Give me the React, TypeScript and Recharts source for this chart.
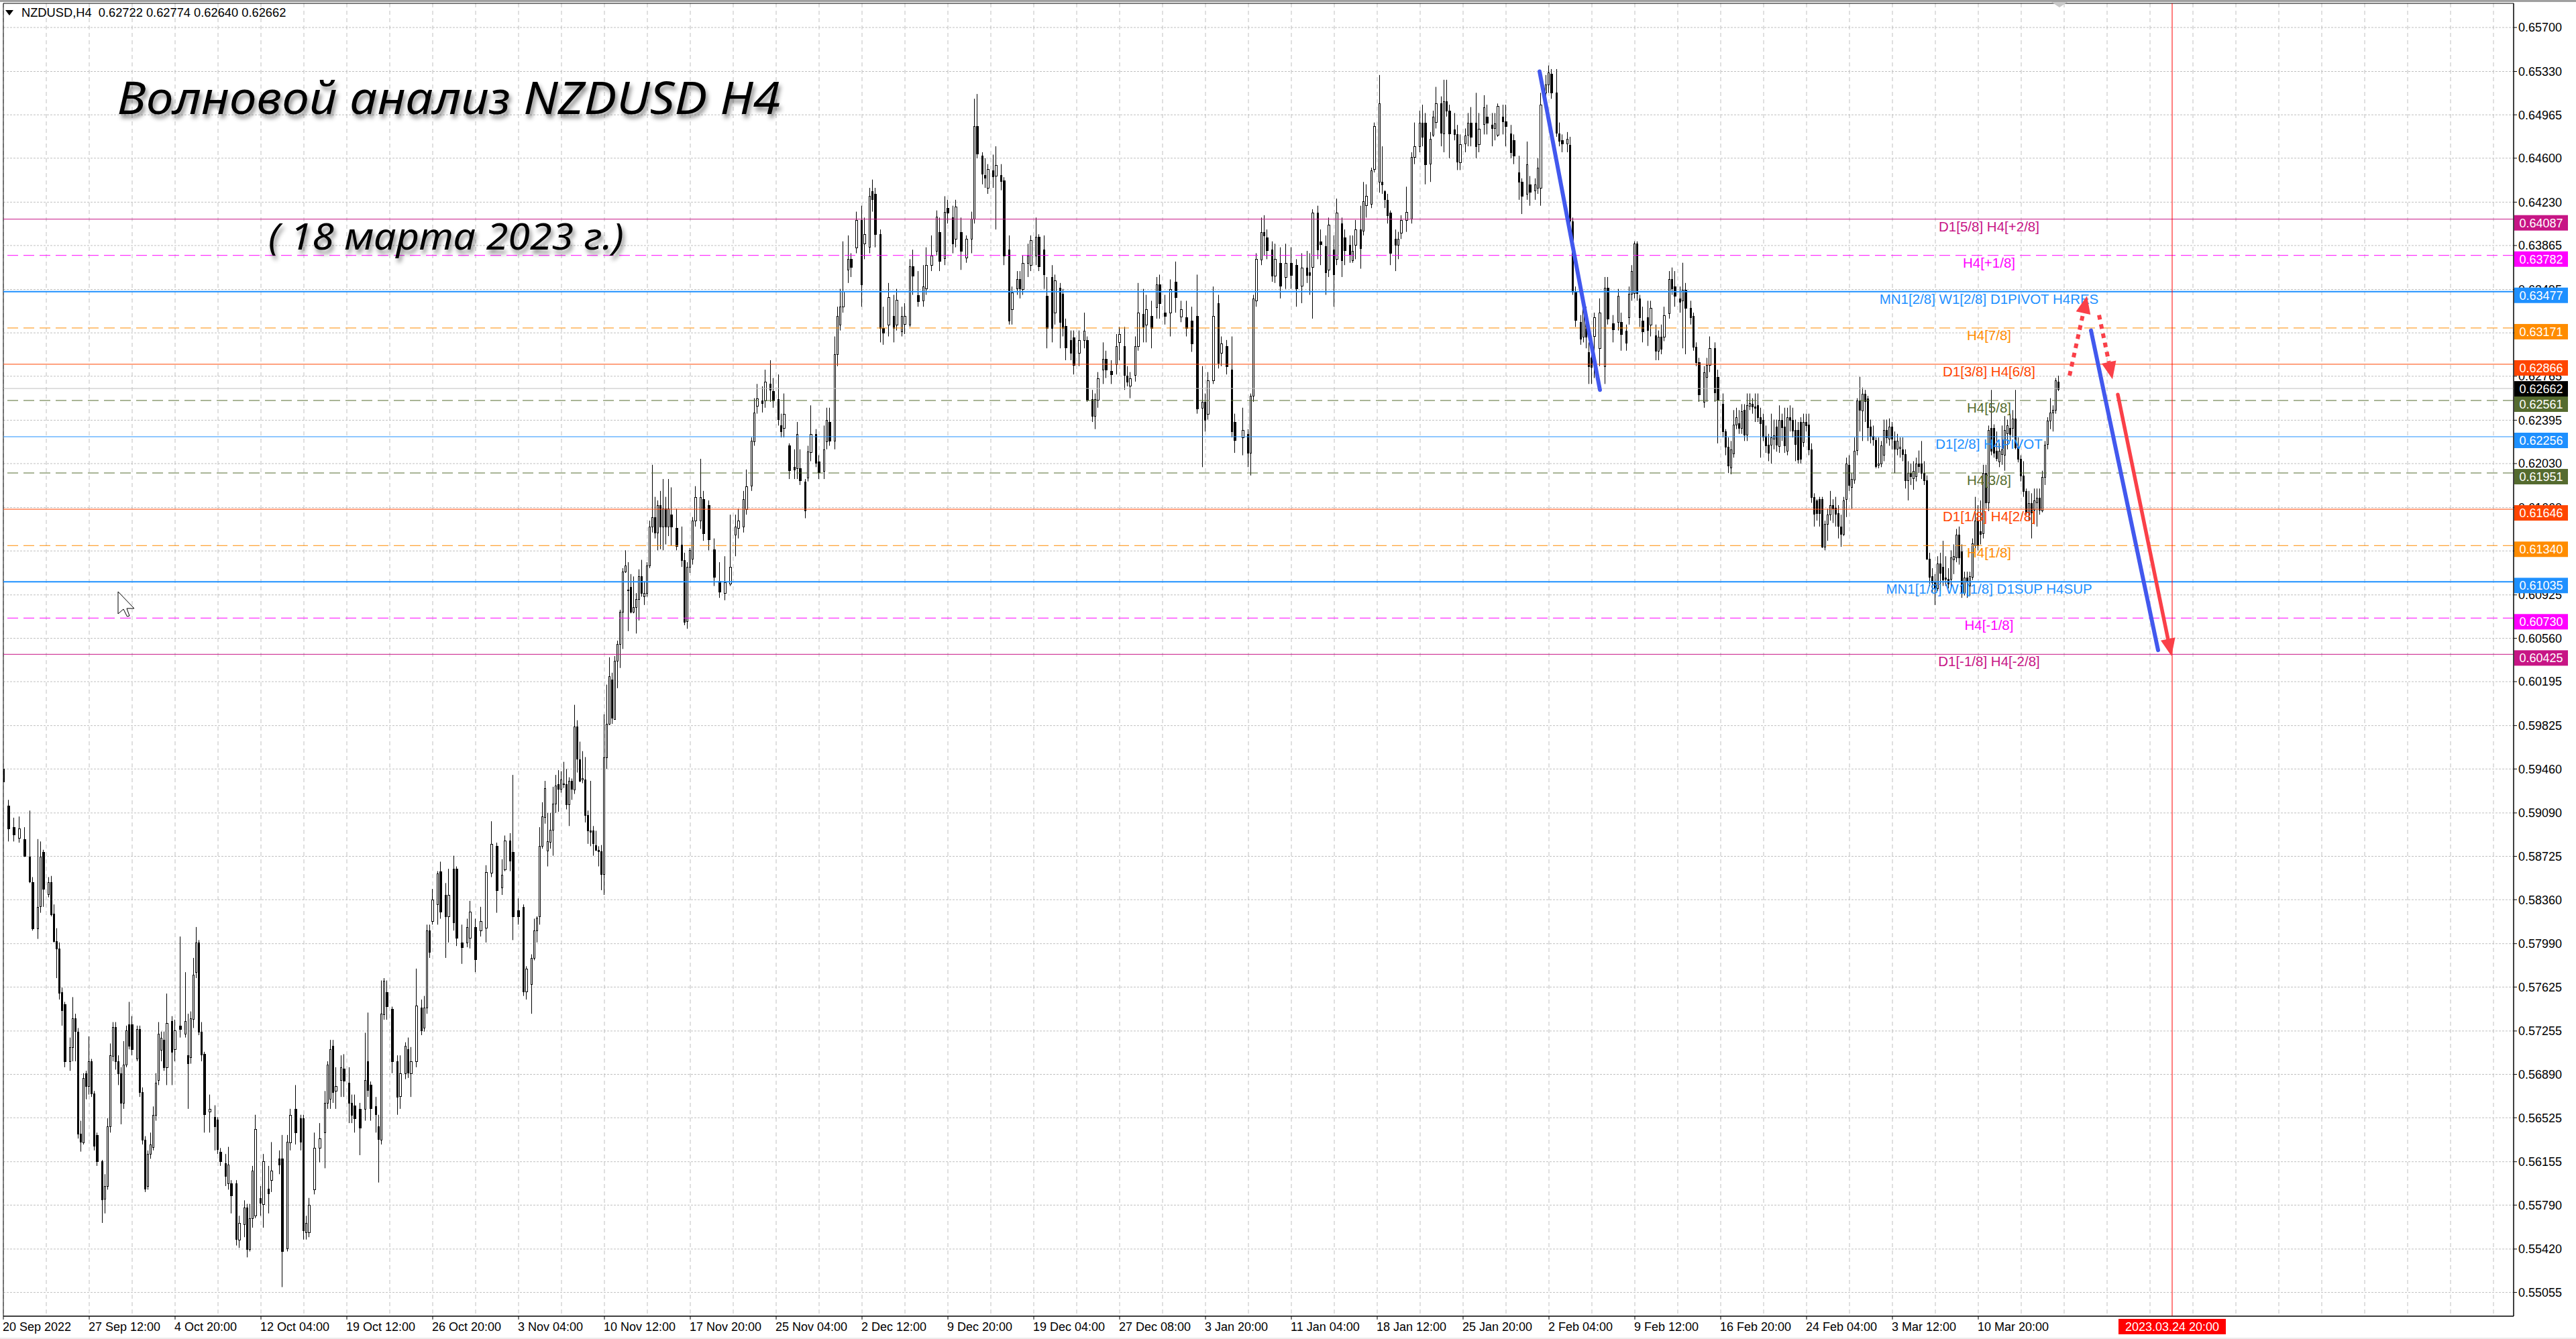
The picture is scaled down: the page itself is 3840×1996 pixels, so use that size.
import {
  Bar,
  CartesianGrid,
  ComposedChart,
  ReferenceArea,
  ReferenceLine,
  XAxis,
  YAxis,
} from "recharts";

// candles, price in pips (0.6266 -> 6266)
// every run is flat: bar number, open, high, low, close
const septBars = [
  0,5946,5954,5932,5935, 2,5915,5920,5885,5896, 4,5897,5905,5885,5891, 6,5888,5906,5884,5896, 8,5887,5897,5872,5873,
  10,5872,5911,5850,5851, 11,5851,5855,5810,5812, 13,5812,5887,5803,5830, 14,5830,5885,5825,5872, 15,5876,5878,5830,5845,
  17,5841,5855,5838,5851, 18,5851,5856,5822,5824, 19,5824,5832,5800,5801, 20,5801,5812,5770,5795, 21,5795,5800,5752,5758,
  22,5758,5762,5730,5743, 23,5748,5750,5695,5700, 25,5700,5720,5692,5712, 26,5712,5754,5700,5736, 27,5736,5740,5700,5725,
  28,5725,5728,5635,5639, 29,5639,5650,5624,5632, 30,5632,5690,5630,5686, 31,5690,5692,5668,5679, 32,5679,5721,5672,5700,
  33,5700,5702,5670,5673, 34,5673,5675,5625,5629, 35,5638,5640,5612,5616, 37,5616,5617,5564,5584, 38,5584,5605,5572,5595,
  39,5595,5652,5592,5645, 40,5645,5715,5640,5705, 41,5705,5733,5700,5729, 42,5729,5733,5693,5700, 43,5700,5705,5680,5690,
  44,5690,5695,5647,5665, 45,5665,5717,5660,5697, 46,5697,5730,5695,5726, 47,5731,5750,5710,5713, 48,5731,5738,5705,5710,
  50,5702,5730,5700,5727, 51,5727,5730,5670,5674, 52,5674,5678,5630,5634, 53,5634,5637,5590,5593, 54,5595,5625,5592,5622,
  55,5622,5640,5618,5630, 56,5628,5662,5625,5655, 57,5655,5690,5650,5682, 58,5684,5733,5680,5723, 59,5710,5725,5700,5720,
  60,5718,5725,5692,5695, 61,5695,5757,5680,5732, 63,5734,5738,5680,5708, 64,5710,5735,5700,5726, 66,5730,5805,5720,5727,
  68,5723,5775,5720,5734, 69,5705,5740,5660,5698, 70,5703,5742,5698,5736, 71,5736,5787,5728,5773, 72,5775,5813,5770,5800,
  73,5800,5802,5722,5725, 74,5725,5733,5700,5706, 75,5706,5708,5640,5655, 77,5658,5672,5640,5660, 79,5653,5663,5625,5645,
];
const octBars = [
  80,5651,5653,5622,5626, 81,5624,5627,5612,5616, 83,5614,5622,5595,5603, 84,5597,5628,5592,5613, 85,5597,5600,5572,5587,
  87,5597,5600,5545,5550, 88,5550,5570,5543,5564, 90,5563,5583,5552,5577, 91,5577,5580,5535,5542, 92,5542,5580,5540,5568,
  93,5568,5612,5560,5608, 94,5570,5655,5568,5643, 96,5585,5595,5570,5581, 97,5580,5622,5560,5616, 99,5593,5612,5572,5589,
  100,5600,5632,5590,5608, 103,5618,5625,5605,5613, 104,5618,5638,5510,5540, 106,5542,5638,5540,5632, 107,5632,5660,5625,5655,
  109,5660,5680,5630,5640, 111,5652,5655,5625,5632, 112,5652,5655,5550,5558, 113,5556,5570,5550,5564, 114,5556,5585,5552,5579,
  116,5592,5640,5588,5627, 118,5627,5648,5615,5635, 120,5640,5675,5610,5665, 121,5665,5700,5660,5697, 122,5668,5718,5660,5710,
  123,5713,5718,5665,5674, 124,5675,5695,5660,5679, 126,5684,5705,5670,5695, 127,5694,5706,5670,5684, 129,5682,5695,5648,5665,
  130,5665,5672,5648,5655, 131,5663,5672,5640,5652, 133,5660,5665,5621,5644, 135,5660,5724,5650,5684, 136,5700,5741,5670,5676,
  137,5680,5683,5650,5660, 139,5662,5670,5640,5655, 140,5645,5655,5598,5634, 141,5634,5768,5630,5740, 142,5740,5770,5735,5768,
  143,5758,5768,5735,5746, 145,5744,5746,5690,5700, 147,5700,5705,5655,5670, 148,5671,5705,5660,5690, 150,5690,5716,5685,5713,
  151,5710,5720,5686,5690, 152,5690,5712,5670,5700, 154,5700,5778,5695,5747, 156,5745,5752,5722,5726, 157,5728,5755,5725,5745,
  158,5745,5815,5740,5810, 159,5810,5815,5787,5792, 160,5818,5845,5815,5836, 162,5832,5860,5815,5858, 163,5860,5868,5820,5826,
  165,5840,5850,5787,5822, 166,5822,5862,5800,5840, 168,5862,5873,5810,5817, 169,5862,5864,5797,5804, 171,5800,5815,5782,5796,
  173,5800,5820,5796,5813, 174,5804,5835,5795,5826, 176,5813,5820,5775,5786, 178,5810,5830,5805,5818, 180,5812,5865,5800,5859,
  182,5859,5902,5855,5883, 184,5881,5884,5825,5844, 186,5846,5870,5840,5857, 187,5862,5890,5860,5886, 189,5886,5892,5860,5869,
  190,5876,5941,5802,5822, 192,5827,5837,5815,5822, 194,5830,5832,5755,5759, 195,5759,5780,5752,5778, 197,5765,5790,5740,5787,
  198,5787,5820,5785,5810,
];
const novBars = [
  199,5810,5822,5800,5821, 200,5822,5897,5815,5881, 201,5881,5918,5879,5906, 202,5906,5936,5900,5930, 203,5877,5909,5864,5885,
  204,5885,5909,5879,5895, 205,5895,5931,5873,5917, 206,5917,5941,5909,5932, 207,5933,5945,5910,5929, 208,5929,5944,5926,5937,
  209,5934,5952,5930,5934, 210,5933,5946,5912,5916, 211,5916,5939,5898,5936, 212,5936,5938,5920,5929, 213,5929,6000,5925,5982,
  214,5982,5987,5943,5955, 215,5954,5969,5935,5936, 216,5937,5961,5934,5938, 217,5937,5956,5901,5907, 218,5907,5911,5883,5894,
  219,5894,5936,5881,5893, 220,5894,5898,5873,5883, 221,5882,5894,5877,5878, 222,5878,5881,5864,5877, 223,5877,5882,5844,5858,
  224,5858,5992,5840,5956, 225,5956,6017,5946,5984, 226,5984,6040,5983,6024, 227,6021,6027,5984,5989, 228,5988,6041,5988,6037,
  229,6037,6054,6014,6051, 230,6051,6080,6031,6078, 231,6078,6115,6047,6112, 232,6112,6130,6111,6117, 233,6097,6120,6062,6097,
  234,6099,6110,6077,6078, 235,6078,6108,6077,6082, 236,6082,6094,6060,6089, 237,6089,6114,6071,6108, 238,6108,6122,6091,6094,
  239,6091,6104,6084,6094, 240,6094,6120,6091,6117, 241,6117,6155,6115,6150, 242,6150,6202,6145,6158, 243,6158,6175,6140,6145,
  244,6145,6172,6130,6168, 245,6168,6180,6131,6150, 246,6150,6190,6130,6165, 247,6165,6175,6135,6150, 248,6150,6190,6142,6165,
  249,6160,6183,6134,6150, 251,6149,6165,6130,6134, 253,6135,6150,6116,6122, 254,6122,6128,6067,6070, 255,6070,6120,6064,6116,
  256,6116,6132,6111,6130, 257,6123,6158,6118,6155, 258,6155,6184,6150,6175, 260,6155,6207,6148,6175, 261,6173,6180,6138,6144,
  263,6168,6172,6130,6139, 265,6131,6140,6100,6108, 267,6104,6120,6090,6095, 269,6094,6125,6088,6103, 271,6102,6160,6100,6116,
  273,6143,6160,6125,6150, 274,6149,6165,6140,6155, 276,6150,6180,6145,6173, 277,6165,6198,6160,6184, 279,6184,6225,6180,6222,
  280,6222,6258,6218,6246, 281,6252,6270,6245,6258, 283,6256,6268,6246,6254, 284,6256,6282,6250,6272, 286,6270,6290,6255,6265,
  287,6264,6275,6250,6256, 289,6257,6278,6235,6240, 290,6235,6245,6225,6230, 291,6233,6262,6225,6245, 293,6218,6220,6190,6197,
  295,6200,6215,6190,6198, 296,6199,6238,6190,6228, 297,6199,6215,6185,6189, 299,6188,6190,6157,6164, 300,6191,6218,6188,6213,
  301,6213,6252,6205,6228, 303,6228,6232,6200,6204, 304,6205,6210,6190,6196, 306,6197,6235,6190,6215, 307,6222,6250,6215,6240,
  308,6238,6250,6218,6222,
];
const decBars = [
  310,6222,6310,6215,6295, 311,6295,6335,6285,6327, 312,6320,6350,6315,6335, 313,6335,6390,6330,6348, 315,6366,6395,6355,6375,
  316,6375,6380,6360,6368, 318,6385,6415,6380,6408, 320,6408,6420,6335,6354, 321,6388,6410,6375,6396, 323,6385,6435,6380,6428,
  324,6432,6442,6415,6425, 325,6430,6435,6385,6396, 327,6396,6400,6305,6317, 328,6317,6335,6303,6313, 330,6320,6355,6310,6343,
  332,6327,6345,6305,6317, 333,6320,6350,6315,6341, 335,6314,6335,6310,6327, 336,6320,6338,6312,6327, 338,6320,6375,6318,6369,
  339,6369,6383,6345,6361, 341,6345,6365,6335,6340, 343,6340,6370,6335,6352, 344,6350,6385,6345,6370, 346,6370,6395,6365,6378,
  348,6382,6416,6378,6411, 349,6398,6410,6365,6374, 351,6376,6428,6370,6415, 352,6418,6425,6405,6414, 354,6410,6420,6380,6388,
  355,6392,6425,6385,6419, 357,6398,6410,6366,6382, 359,6376,6395,6372,6392, 361,6392,6415,6380,6409, 362,6409,6510,6405,6487,
  363,6487,6514,6460,6464, 365,6462,6465,6438,6447, 366,6446,6460,6435,6444, 367,6435,6455,6430,6451, 369,6450,6463,6435,6445,
  370,6445,6470,6400,6454, 372,6446,6455,6433,6441, 373,6441,6444,6370,6378, 375,6383,6395,6320,6323, 376,6333,6352,6320,6347,
  378,6350,6365,6345,6358, 379,6358,6365,6342,6350, 380,6350,6378,6345,6372, 382,6372,6388,6360,6378, 383,6370,6395,6365,6391,
  385,6378,6410,6370,6394, 386,6394,6396,6365,6369, 388,6383,6395,6350,6362, 389,6344,6360,6300,6317, 391,6360,6370,6305,6317,
  392,6330,6362,6320,6357, 394,6351,6355,6300,6322, 395,6346,6350,6310,6317, 396,6319,6325,6290,6301, 398,6307,6315,6290,6296,
  399,6309,6315,6278,6286, 401,6296,6315,6285,6307, 403,6307,6330,6300,6315, 404,6307,6310,6255,6257, 406,6257,6265,6238,6243,
  407,6243,6262,6232,6257, 408,6257,6280,6250,6275, 410,6282,6305,6270,6291, 411,6291,6298,6275,6282, 413,6281,6290,6270,6278,
  415,6287,6312,6278,6302, 416,6305,6318,6290,6312, 418,6302,6318,6265,6278, 419,6277,6285,6268,6272, 420,6269,6280,6258,6275,
  422,6278,6310,6272,6302, 423,6302,6355,6298,6330, 425,6329,6350,6305,6318, 426,6320,6345,6305,6333, 428,6327,6340,6300,6317,
  430,6335,6360,6325,6354, 431,6354,6362,6325,6338, 433,6330,6345,6320,6327, 435,6330,6358,6310,6350, 437,6356,6373,6330,6343,
  439,6327,6340,6322,6333, 441,6326,6340,6310,6317, 443,6323,6335,6297,6304,
];
const janBars = [
  445,6327,6362,6245,6249, 447,6250,6285,6200,6255, 448,6255,6262,6230,6240, 449,6245,6280,6240,6273, 451,6273,6352,6270,6327,
  453,6338,6345,6283,6288, 454,6296,6310,6285,6304, 456,6302,6307,6278,6285, 458,6282,6310,6225,6230, 459,6238,6245,6212,6223,
  462,6225,6250,6210,6231, 464,6228,6232,6200,6212, 465,6212,6262,6193,6260, 466,6260,6345,6255,6342, 467,6340,6380,6335,6375,
  469,6375,6410,6370,6398, 470,6398,6412,6378,6395, 471,6393,6400,6375,6382, 473,6383,6390,6356,6361, 474,6361,6388,6355,6375,
  476,6372,6385,6342,6353, 478,6360,6388,6350,6372, 480,6372,6385,6350,6362, 482,6370,6375,6335,6350, 484,6353,6380,6338,6368,
  486,6368,6382,6355,6362, 487,6364,6380,6345,6362, 488,6368,6417,6325,6414, 490,6414,6420,6375,6383, 491,6390,6400,6370,6388,
  493,6386,6395,6345,6364, 494,6366,6410,6360,6404, 496,6383,6395,6335,6362, 497,6375,6426,6370,6414, 499,6405,6410,6360,6374,
  500,6393,6400,6370,6382, 502,6387,6395,6372,6379, 503,6374,6395,6372,6382, 504,6387,6408,6375,6400, 506,6400,6420,6367,6384,
  507,6399,6440,6395,6424, 508,6420,6438,6410,6428, 510,6422,6452,6418,6450, 511,6451,6490,6448,6487, 513,6440,6530,6431,6506,
  514,6440,6470,6430,6438, 515,6432,6433,6418,6425, 516,6425,6430,6405,6412, 517,6414,6416,6370,6380, 519,6392,6400,6365,6387,
  520,6387,6398,6375,6392, 521,6397,6412,6392,6408, 523,6408,6436,6398,6415, 525,6409,6465,6405,6461, 526,6461,6490,6455,6470,
  528,6470,6500,6465,6490, 529,6490,6505,6470,6478, 530,6490,6498,6438,6455, 532,6455,6482,6440,6476, 533,6480,6500,6478,6495,
  534,6490,6520,6485,6506, 536,6506,6512,6470,6481, 537,6481,6526,6465,6508, 538,6508,6526,6495,6500, 539,6500,6505,6460,6481,
  541,6484,6498,6475,6480, 542,6480,6488,6450,6457, 543,6457,6480,6450,6472, 545,6472,6485,6465,6479, 546,6480,6498,6470,6490,
  547,6490,6503,6470,6478, 549,6490,6515,6460,6470, 550,6472,6498,6465,6485, 552,6489,6513,6480,6503, 553,6495,6505,6480,6490,
  555,6488,6498,6470,6485, 556,6485,6498,6475,6489, 557,6480,6506,6478,6504, 559,6495,6505,6480,6491, 560,6491,6505,6470,6487,
  562,6481,6488,6460,6465, 563,6475,6480,6455,6462, 565,6448,6462,6425,6440, 566,6440,6443,6413,6428, 568,6430,6474,6425,6455,
  569,6438,6445,6420,6432, 571,6433,6443,6425,6438, 572,6435,6460,6430,6452,
];
const febBars = [
  573,6435,6515,6420,6505, 575,6515,6530,6505,6522, 576,6522,6538,6515,6532, 577,6531,6535,6510,6515, 579,6515,6535,6478,6481,
  580,6481,6490,6470,6475, 581,6475,6480,6465,6472, 583,6472,6482,6465,6476, 584,6471,6478,6405,6407, 585,6407,6410,6345,6348,
  586,6348,6352,6318,6324, 588,6322,6328,6303,6308, 589,6310,6338,6305,6334, 590,6328,6335,6300,6310, 591,6297,6305,6270,6285,
  592,6292,6300,6270,6284, 593,6310,6330,6275,6326, 595,6300,6342,6285,6330, 597,6285,6360,6270,6351, 598,6351,6360,6320,6325,
  600,6321,6328,6305,6316, 602,6322,6350,6315,6344, 603,6322,6330,6298,6312, 605,6315,6320,6298,6305, 606,6326,6352,6320,6346,
  607,6346,6370,6340,6365, 608,6346,6390,6342,6388, 609,6388,6390,6340,6346, 610,6342,6345,6318,6326, 611,6323,6335,6305,6314,
  613,6326,6340,6302,6315, 614,6320,6340,6310,6334, 616,6311,6320,6290,6298, 617,6298,6315,6290,6310, 618,6310,6320,6295,6300,
  619,6310,6335,6306,6328, 621,6329,6365,6325,6358, 622,6358,6368,6345,6350, 623,6352,6365,6335,6344, 625,6342,6352,6330,6339,
  626,6340,6372,6300,6349, 627,6349,6355,6295,6334, 629,6334,6340,6320,6326, 630,6327,6330,6298,6301, 631,6301,6305,6285,6288,
  632,6288,6292,6255,6261, 634,6255,6285,6250,6280, 635,6276,6292,6255,6286, 636,6286,6310,6280,6300, 638,6300,6305,6255,6263,
  639,6276,6282,6220,6257, 641,6253,6262,6225,6230, 642,6230,6232,6210,6217, 643,6217,6225,6195,6201, 644,6200,6222,6194,6215,
  645,6212,6248,6208,6236, 646,6236,6250,6232,6242, 647,6237,6248,6228,6233, 648,6233,6253,6228,6247, 649,6248,6253,6222,6227,
  650,6227,6262,6222,6252, 651,6252,6262,6248,6254, 652,6253,6258,6245,6251, 653,6251,6262,6238,6250, 654,6252,6262,6238,6242,
  655,6242,6250,6208,6237, 656,6240,6245,6222,6226, 657,6226,6235,6212,6218, 658,6219,6228,6205,6212, 659,6219,6245,6203,6225,
  660,6224,6240,6215,6227, 661,6234,6240,6213,6219, 662,6218,6252,6212,6240, 663,6240,6245,6222,6234, 664,6234,6250,6212,6218,
  665,6214,6250,6210,6242, 666,6242,6252,6230,6240, 667,6240,6250,6225,6231, 668,6231,6240,6205,6219, 669,6231,6238,6203,6206,
  670,6238,6242,6203,6207, 671,6221,6245,6217,6238, 672,6238,6245,6230,6235, 673,6236,6245,6210,6215, 674,6215,6220,6170,6175,
  675,6175,6178,6150,6161, 676,6172,6173,6155,6161, 677,6173,6175,6150,6161, 678,6173,6175,6132,6133, 679,6133,6155,6130,6152,
  680,6152,6165,6138,6160, 681,6160,6180,6155,6168, 682,6168,6173,6153,6165, 683,6166,6175,6150,6161, 684,6161,6168,6140,6150,
  685,6150,6160,6133,6144, 686,6144,6175,6142,6172, 687,6173,6208,6158,6203, 688,6202,6210,6180,6185, 689,6183,6195,6165,6190,
  690,6190,6225,6186,6214, 691,6214,6258,6210,6256, 692,6256,6276,6230,6248, 693,6248,6267,6222,6262, 694,6262,6265,6238,6256,
  695,6258,6260,6222,6234, 696,6234,6240,6220,6226, 697,6226,6235,6218,6223, 698,6223,6225,6199,6201, 699,6202,6225,6199,6203,
  700,6203,6222,6200,6218, 701,6210,6240,6205,6231, 702,6231,6240,6220,6225, 703,6224,6241,6218,6234, 704,6234,6238,6215,6224,
];
const marBars = [
  705,6222,6230,6195,6215, 706,6215,6228,6210,6222, 707,6216,6225,6208,6217, 708,6215,6225,6205,6211, 709,6211,6215,6182,6189,
  710,6189,6205,6172,6195, 711,6195,6203,6185,6192, 712,6191,6205,6181,6197, 713,6192,6208,6188,6203, 714,6203,6214,6195,6201,
  715,6203,6222,6190,6195, 716,6195,6205,6185,6189, 717,6189,6193,6122,6123, 718,6123,6128,6100,6108, 719,6108,6115,6095,6103,
  720,6103,6110,6084,6098, 721,6098,6125,6096,6119, 722,6119,6128,6096,6111, 723,6116,6138,6100,6105, 724,6107,6125,6100,6106,
  725,6106,6115,6098,6102, 726,6106,6130,6098,6124, 727,6122,6135,6110,6125, 728,6124,6148,6120,6143, 729,6143,6150,6118,6124,
  730,6129,6135,6090,6094, 731,6094,6112,6092,6107, 732,6107,6112,6090,6104, 733,6100,6112,6092,6108, 734,6108,6140,6105,6136,
  735,6134,6175,6130,6155, 736,6155,6168,6130,6134, 737,6146,6172,6135,6144, 738,6144,6202,6140,6195, 739,6195,6202,6165,6170,
  740,6170,6235,6163,6231, 741,6233,6265,6210,6214, 742,6233,6236,6208,6212, 743,6214,6230,6205,6208, 744,6205,6220,6200,6214,
  745,6211,6235,6202,6215, 746,6210,6243,6197,6231, 747,6228,6240,6215,6235, 748,6233,6245,6222,6228, 749,6233,6248,6225,6241,
  750,6241,6265,6215,6217, 751,6217,6225,6204,6207, 752,6207,6210,6188,6193, 753,6193,6205,6175,6180, 754,6180,6182,6160,6162,
  755,6162,6180,6155,6170, 756,6170,6178,6140,6162, 757,6164,6182,6152,6172, 758,6170,6182,6150,6174, 759,6174,6182,6160,6164,
  760,6164,6197,6162,6192, 761,6192,6222,6185,6219, 762,6219,6242,6215,6239, 763,6239,6258,6232,6246, 764,6246,6252,6230,6248,
  765,6248,6275,6245,6273, 766,6272,6277,6264,6266,
];

const yTicks = [
  0.657, 0.6533, 0.64965, 0.646, 0.6423, 0.63865, 0.63495, 0.6313, 0.62765, 0.62395, 0.6203, 0.6166, 0.61295, 0.60925,
  0.6056, 0.60195, 0.59825, 0.5946, 0.5909, 0.58725, 0.5836, 0.5799, 0.57625, 0.57255, 0.5689, 0.56525, 0.56155, 0.5579,
  0.5542, 0.55055,
];
const dateLabels = [
  "20 Sep 2022", "27 Sep 12:00", "4 Oct 20:00", "12 Oct 04:00", "19 Oct 12:00", "26 Oct 20:00", "3 Nov 04:00", "10 Nov 12:00",
  "17 Nov 20:00", "25 Nov 04:00", "2 Dec 12:00", "9 Dec 20:00", "19 Dec 04:00", "27 Dec 08:00", "3 Jan 20:00", "11 Jan 04:00",
  "18 Jan 12:00", "25 Jan 20:00", "2 Feb 04:00", "9 Feb 12:00", "16 Feb 20:00", "24 Feb 04:00", "3 Mar 12:00", "10 Mar 20:00",
];

const levelPrices = [0.64087, 0.63782, 0.63477, 0.63171, 0.62866, 0.62561, 0.62256, 0.61951, 0.61646, 0.6134, 0.61035, 0.6073, 0.60425];
const levelNames = [
  "D1[5/8] H4[+2/8]", "H4[+1/8]", "MN1[2/8] W1[2/8] D1PIVOT H4RES", "H4[7/8]", "D1[3/8] H4[6/8]", "H4[5/8]", "D1[2/8] H4PIVOT",
  "H4[3/8]", "D1[1/8] H4[2/8]", "H4[1/8]", "MN1[1/8] W1[1/8] D1SUP H4SUP", "H4[-1/8]", "D1[-1/8] H4[-2/8]",
];
const levelColors = ["#C71585", "#FF00FF", "#1E90FF", "#FF8C00", "#FF4500", "#556B2F", "#1E90FF", "#556B2F", "#FF4500", "#FF8C00", "#1E90FF", "#FF00FF", "#C71585"];
const levelDashed = [false, true, false, true, false, true, false, true, false, true, false, true, false];
const levelThick = [false, false, true, false, false, false, false, false, false, false, true, false, false];

const lastPrice = 0.62662;
const targetBar = 808.25;
const targetLabel = "2023.03.24 20:00";

// drawn wave lines: bar and pip pairs for start and end
const waveBlue = [[572.5, 6533, 595, 6265], [778, 6315, 803, 6046]];
const waveRedSolid = [788, 6261, 808, 6041];
const waveRedDotted = [[770, 6277, 776.5, 6344], [781, 6328, 786, 6274]];

const FONT = '"Liberation Sans", Arial, sans-serif';
const RED = "#FA4048";
const BLUE = "#4258EE";
const PRICE_DOMAIN = [0.54855, 0.65903];

const allRuns = [septBars, octBars, novBars, decBars, janBars, febBars, marBars];
const candles: any[] = [];
allRuns.forEach((run) => {
  for (let i = 0; i + 4 < run.length; i += 5) {
    candles.push({
      bar: run[i],
      open: run[i + 1] / 1e4,
      high: run[i + 2] / 1e4,
      low: run[i + 3] / 1e4,
      close: run[i + 4] / 1e4,
      range: [run[i + 3] / 1e4, run[i + 2] / 1e4],
    });
  }
});
candles.forEach((c, i) => {
  const next = candles[i + 1];
  c.wide = next ? next.bar - c.bar > 1 : false;
});

const xTicks = dateLabels.map((_, i) => i * 32);
const gridBars: number[] = [];
for (let b = 0; b <= 935; b += 16) gridBars.push(b);
const tagPrices = [...levelPrices, lastPrice];

function Candle(props: any) {
  const { x, y, width, height, payload } = props;
  const cx = Math.floor(x + width / 2) + 0.5;
  const top = Math.min(y, y + height);
  const h = Math.abs(height);
  const k = h / (payload.high - payload.low || 1);
  const yOf = (p: number) => top + (payload.high - p) * k;
  const up = payload.close >= payload.open;
  const bodyTop = Math.round(yOf(Math.max(payload.open, payload.close))) + 0.5;
  const bodyH = Math.max(Math.round(Math.abs(payload.open - payload.close) * k), 1);
  const w = payload.wide ? 3 : 2;
  return (
    <g>
      <line x1={cx} x2={cx} y1={top} y2={top + h} stroke="#000" strokeWidth={1} />
      <rect x={cx - 1} y={bodyTop} width={w} height={bodyH} fill={up ? "#fff" : "#000"} stroke="#000" strokeWidth={1} />
    </g>
  );
}

// coloured price boxes, drawn as the ticks of a second axis so they sit over the first one
function PriceTag({ y, payload }: any) {
  const price = payload.value;
  const i = levelPrices.indexOf(price);
  // the black last-price box is centred on its line, the level boxes hang below theirs
  const top = i < 0 ? y - 11 : y - 6;
  return (
    <g>
      <rect x={3748} y={top} width={80} height={23} fill={i < 0 ? "#000" : levelColors[i]} />
      <text x={3788} y={top + 18} fill="#fff" fontSize={18} fontFamily={FONT} textAnchor="middle">
        {price.toFixed(5)}
      </text>
    </g>
  );
}

function LevelName({ viewBox, text, color }: any) {
  return (
    <text x={2965} y={viewBox.y + 18} fill={color} fontSize={20.5} fontFamily={FONT} textAnchor="middle">
      {text}
    </text>
  );
}

function TargetTag({ viewBox }: any) {
  return (
    <g>
      <rect x={viewBox.x - 80} y={1966} width={160} height={23} fill="#FF0000" />
      <text x={viewBox.x} y={1984} fill="#fff" fontSize={18} fontFamily={FONT} textAnchor="middle">
        {targetLabel}
      </text>
    </g>
  );
}

function DateTick({ x, y, payload, index }: any) {
  return (
    <text x={x - 1} y={y + 15} fill="#000" fontSize={18} fontFamily={FONT}>
      {dateLabels[index ?? payload.index]}
    </text>
  );
}

function ArrowLine({ x1, y1, x2, y2, color, width, dash, head }: any) {
  const a = Math.atan2(y2 - y1, x2 - x1);
  const bx = x2 - Math.cos(a) * 26;
  const by = y2 - Math.sin(a) * 26;
  const nx = -Math.sin(a) * 11;
  const ny = Math.cos(a) * 11;
  return (
    <g>
      <line
        x1={x1}
        y1={y1}
        x2={head ? bx : x2}
        y2={head ? by : y2}
        stroke={color}
        strokeWidth={width}
        strokeDasharray={dash}
        strokeLinecap={dash ? "butt" : "round"}
      />
      {head && <polygon points={`${x2},${y2} ${bx + nx},${by + ny} ${bx - nx},${by - ny}`} fill={color} />}
    </g>
  );
}

function waveSegment(w: number[]) {
  return [
    { x: w[0], y: w[1] / 1e4 },
    { x: w[2], y: w[3] / 1e4 },
  ] as any;
}

export default function App() {
  return (
    <div style={{ position: "fixed", left: 0, top: 0, width: 3840, height: 1996, background: "#fff", overflow: "hidden" }}>
      <ComposedChart width={3840} height={1996} data={candles} margin={{ top: 5, right: 0, bottom: 0, left: 5 }}>
        <CartesianGrid vertical={false} stroke="#c0c0c0" strokeDasharray="3 2" horizontalValues={yTicks} />
        <CartesianGrid horizontal={false} stroke="#c0c0c0" strokeDasharray="6 5" verticalValues={gridBars} />
        <XAxis
          type="number"
          dataKey="bar"
          domain={[0, 935.5]}
          ticks={xTicks}
          interval={0}
          allowDataOverflow
          height={34}
          stroke="#000"
          tickSize={5}
          tick={<DateTick />}
        />
        <YAxis
          orientation="right"
          domain={PRICE_DOMAIN}
          ticks={yTicks}
          interval={0}
          allowDataOverflow
          width={92}
          stroke="#000"
          tickSize={5}
          tickMargin={2}
          tick={{ fill: "#000", fontSize: 18, fontFamily: FONT }}
          tickFormatter={(v: number) => v.toFixed(5)}
        />
        <YAxis
          yAxisId="tags"
          orientation="right"
          domain={PRICE_DOMAIN}
          ticks={tagPrices}
          interval={0}
          allowDataOverflow
          width={1}
          axisLine={false}
          tickLine={false}
          tick={<PriceTag />}
        />
        <ReferenceLine y={lastPrice} stroke="#c0c0c0" strokeWidth={1} />
        {levelPrices.map((p, i) => (
          <ReferenceLine
            key={p}
            y={p}
            stroke={levelColors[i]}
            strokeWidth={levelThick[i] ? 2 : 1}
            strokeDasharray={levelDashed[i] ? "16 8" : undefined}
          />
        ))}
        <ReferenceLine x={targetBar} stroke="#FF0000" strokeWidth={1} />
        <Bar dataKey="range" barSize={3} shape={<Candle />} isAnimationActive={false} />
        {levelPrices.map((p, i) => (
          <ReferenceLine
            key={`name-${p}`}
            y={p}
            stroke="none"
            label={<LevelName text={levelNames[i]} color={levelColors[i]} />}
          />
        ))}
        {waveBlue.map((w) => (
          <ReferenceLine
            key={w[0]}
            segment={waveSegment(w)}
            ifOverflow="visible"
            shape={(p: any) => <ArrowLine {...p} color={BLUE} width={6} />}
          />
        ))}
        <ReferenceLine
          segment={waveSegment(waveRedSolid)}
          shape={(p: any) => <ArrowLine {...p} color={RED} width={5.5} head />}
        />
        {waveRedDotted.map((w) => (
          <ReferenceLine
            key={w[0]}
            segment={waveSegment(w)}
            shape={(p: any) => <ArrowLine {...p} color={RED} width={6} dash="7 7" head />}
          />
        ))}
        <ReferenceArea x1={0} x2={935.5} y1={PRICE_DOMAIN[0]} y2={PRICE_DOMAIN[1]} fill="none" stroke="#000" strokeWidth={1} />
        <ReferenceLine x={targetBar} stroke="none" label={<TargetTag />} />
      </ComposedChart>
      <svg width={3840} height={1996} style={{ position: "absolute", left: 0, top: 0, pointerEvents: "none" }}>
        <rect x={0} y={0} width={3840} height={3} fill="#a0a0a0" />
        <rect x={0} y={1994} width={3840} height={2} fill="#ececec" />
        <polygon points="3058,3 3082,3 3070,11" fill="#c8c8c8" />
        <polygon points="8,15 20,15 14,23" fill="#000" />
        <text x={32} y={25} fontSize={18.3} fontFamily={FONT} fill="#000" xmlSpace="preserve">
          {"NZDUSD,H4  0.62722 0.62774 0.62640 0.62662"}
        </text>
        <g style={{ filter: "drop-shadow(3px 6px 3px rgba(0,0,0,0.45))" }}>
          <text x={175} y={170} fontSize={68} fontStyle="italic" fontFamily='"Noto Sans", sans-serif' fill="#000" textLength={988} lengthAdjust="spacingAndGlyphs">
            Волновой анализ NZDUSD H4
          </text>
          <text x={400} y={372} fontSize={54} fontStyle="italic" fontFamily='"Noto Sans", sans-serif' fill="#000" textLength={530} lengthAdjust="spacingAndGlyphs">
            ( 18 марта 2023 г.)
          </text>
        </g>
        <path d="M176 882 L176 915 L184 908 L189.5 919 L193 918 L189 907 L200 907 Z" fill="#fff" stroke="#000" strokeWidth={1} />
      </svg>
    </div>
  );
}
